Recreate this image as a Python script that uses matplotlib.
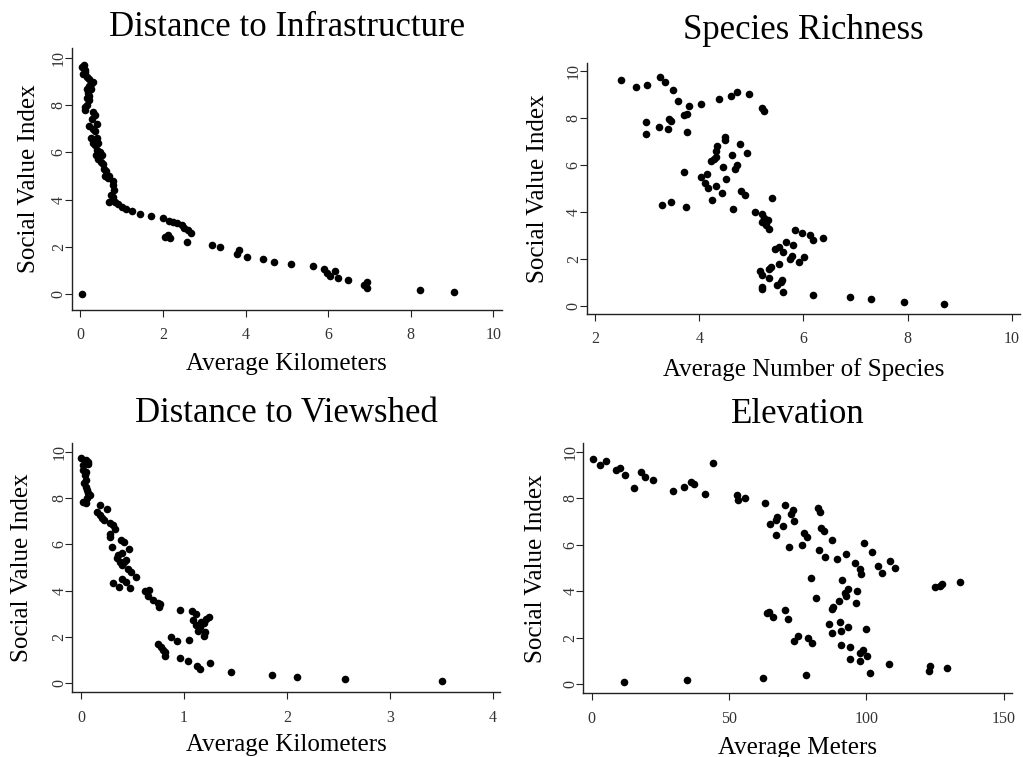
import matplotlib
matplotlib.use("Agg")
import matplotlib.pyplot as plt

plt.rcParams['font.family'] = ['Liberation Serif', 'DejaVu Serif']

# Distance to Infrastructure (km vs social value index)
infra_km = [0.08, 0.05, 0.10, 0.07, 0.12, 0.15, 0.20, 0.30, 0.25, 0.20, 0.15, 0.25,
            0.18, 0.22, 0.15, 0.20, 0.17, 0.12, 0.10,
            0.30, 0.35, 0.28, 0.40, 0.20, 0.30, 0.35, 0.25, 0.40, 0.30, 0.42, 0.35,
            0.40, 0.48, 0.38, 0.52, 0.42, 0.50, 0.55, 0.58, 0.62, 0.60, 0.70, 0.68,
            0.80, 0.78, 0.82, 0.75, 0.80, 0.70, 0.85, 0.90, 1.00, 1.10, 1.25, 1.45,
            1.72, 2.00, 2.15, 2.25, 2.35, 2.45, 2.50, 2.60, 2.68, 2.05, 2.12, 2.18,
            2.58, 3.18, 3.37, 3.83, 3.79, 4.04, 4.43, 4.70, 5.09, 5.63, 5.90, 5.97,
            6.05, 6.17, 6.25, 6.49, 6.87, 6.93, 6.95, 8.23, 9.06, 0.05]
infra_svi = [9.7, 9.6, 9.5, 9.3, 9.4, 9.2, 9.1, 9.0, 8.9, 8.8, 8.7, 8.7,
             8.5, 8.4, 8.3, 8.2, 8.0, 7.9, 7.8,
             7.7, 7.6, 7.4, 7.2, 7.1, 7.0, 6.9, 6.6, 6.6, 6.4, 6.4, 6.3,
             6.1, 6.0, 5.9, 5.9, 5.7, 5.6, 5.5, 5.3, 5.2, 5.0, 5.0, 4.9,
             4.8, 4.6, 4.4, 4.2, 4.1, 3.9, 3.9, 3.8, 3.7, 3.6, 3.5, 3.4,
             3.3, 3.2, 3.1, 3.05, 3.0, 2.9, 2.8, 2.7, 2.6, 2.4, 2.5, 2.35,
             2.2, 2.08, 1.98, 1.86, 1.69, 1.58, 1.47, 1.37, 1.27, 1.17, 1.06, 0.90,
             0.76, 0.99, 0.68, 0.58, 0.37, 0.51, 0.25, 0.18, 0.08, 0.0]

# Species Richness (average number of species)
species_n = [2.50, 2.79, 2.99, 3.25, 3.33, 3.49, 3.58, 3.81, 4.03, 4.37, 4.60, 4.73,
             4.95, 5.20, 5.25, 2.97, 2.97, 3.22, 3.41, 3.45, 3.40, 3.70, 3.76, 3.76,
             3.71, 3.29, 3.46, 3.74, 4.03, 4.14, 4.10, 4.16, 4.25, 4.31, 4.44, 4.51,
             4.45, 4.23, 4.28, 4.31, 4.32, 4.33, 4.50, 4.50, 4.63, 4.78, 4.73, 4.68,
             4.92, 4.79, 4.87, 4.65, 5.39, 5.06, 5.20, 5.25, 5.31, 5.21, 5.28, 5.33,
             5.84, 5.98, 6.12, 6.18, 6.38, 5.66, 5.80, 5.52, 5.45, 5.60, 5.77, 5.74,
             6.01, 5.92, 5.52, 5.38, 5.34, 5.16, 5.20, 5.33, 5.57, 5.59, 5.49, 5.20,
             5.20, 5.60, 6.19, 6.89, 7.29, 7.94, 8.69]
species_svi = [9.60, 9.30, 9.40, 9.72, 9.52, 9.19, 8.71, 8.50, 8.60, 8.79, 8.91, 9.11,
               8.99, 8.40, 8.30, 7.80, 7.30, 7.60, 7.96, 7.87, 7.53, 8.11, 8.17, 7.40,
               5.70, 4.28, 4.40, 4.20, 5.49, 5.60, 5.22, 5.02, 4.50, 5.11, 4.79, 5.39,
               5.89, 6.16, 6.23, 6.34, 6.60, 6.81, 7.04, 7.19, 6.40, 6.89, 6.00, 5.80,
               6.48, 4.89, 4.71, 4.10, 4.58, 4.00, 3.91, 3.72, 3.66, 3.57, 3.43, 3.28,
               3.21, 3.11, 3.01, 2.79, 2.87, 2.70, 2.58, 2.48, 2.40, 2.27, 2.13, 2.01,
               2.09, 1.87, 1.79, 1.65, 1.57, 1.49, 1.30, 1.19, 1.02, 1.09, 0.87, 0.81,
               0.70, 0.57, 0.47, 0.37, 0.28, 0.16, 0.07]

# Distance to Viewshed (km)
view_km = [0.00, 0.05, 0.065, 0.017, 0.07, 0.02, 0.05, 0.036, 0.05, 0.03, 0.05, 0.06,
           0.07, 0.09, 0.06, 0.05, 0.02,
           0.18, 0.16, 0.18, 0.25, 0.20, 0.22, 0.28, 0.31, 0.33, 0.28, 0.28, 0.30,
           0.385, 0.42, 0.47, 0.36, 0.35, 0.38, 0.40, 0.42, 0.40, 0.44, 0.46, 0.49,
           0.53, 0.31, 0.37, 0.40, 0.44, 0.48, 0.62, 0.66, 0.65, 0.70, 0.75, 0.76,
           0.77, 0.96, 1.08, 1.12, 1.09, 1.12, 1.16, 1.14, 1.20, 1.19, 1.19, 1.21,
           1.24, 1.17, 0.87, 0.93, 1.05, 0.75, 0.78, 0.80, 0.82, 0.82, 0.96, 1.04,
           1.13, 1.16, 1.25, 1.46, 1.86, 2.10, 2.56, 3.51]
view_svi = [9.74, 9.64, 9.54, 9.42, 9.45, 9.21, 9.14, 9.00, 8.78, 8.63, 8.49, 8.35,
            8.20, 8.13, 7.99, 7.80, 7.84,
            7.71, 7.41, 7.27, 7.54, 7.12, 7.05, 6.91, 6.83, 6.65, 6.43, 6.33, 5.90,
            6.19, 6.08, 5.80, 5.54, 5.40, 5.25, 5.11, 5.25, 5.61, 5.32, 4.92, 4.82,
            4.60, 4.32, 4.17, 4.49, 4.39, 4.10, 3.97, 4.03, 3.78, 3.60, 3.45, 3.31,
            3.42, 3.16, 3.10, 3.00, 2.72, 2.50, 2.43, 2.27, 2.20, 2.06, 2.58, 2.78,
            2.88, 2.63, 1.99, 1.82, 1.88, 1.68, 1.58, 1.44, 1.33, 1.19, 1.09, 0.98,
            0.76, 0.60, 0.86, 0.47, 0.36, 0.29, 0.17, 0.09]

# Elevation (average meters)
elev_m = [0.6, 3.0, 5.2, 8.8, 10.3, 12.1, 15.5, 17.8, 19.5, 22.2, 29.7, 33.8,
          36.0, 37.3, 41.3, 44.1, 53.0, 53.2, 56.0, 63.2, 70.4, 73.2, 72.7, 73.7,
          67.6, 67.3, 64.8, 69.8, 67.3, 71.9, 82.4, 83.3, 83.6, 84.5, 77.5, 78.4,
          76.7, 87.6, 82.7, 84.8, 89.2, 92.7, 99.2, 102.2, 95.8, 97.6, 98.2, 104.2,
          105.6, 108.5, 110.4, 80.0, 91.0, 81.8, 93.2, 92.1, 92.7, 96.7, 96.4, 90.1,
          87.9, 87.4, 63.9, 64.6, 66.1, 70.3, 71.6, 86.4, 90.5, 87.6, 90.9, 93.2,
          99.9, 75.3, 73.7, 78.9, 80.1, 90.9, 94.2, 98.9, 97.8, 100.1, 94.2, 97.6,
          101.3, 108.4, 123.3, 123.0, 129.5, 125.2, 126.7, 127.6, 134.2, 77.9, 11.8,
          34.7, 62.3]
elev_svi = [9.70, 9.41, 9.60, 9.21, 9.31, 9.00, 8.42, 9.11, 8.93, 8.78, 8.31, 8.50,
            8.71, 8.60, 8.20, 9.50, 8.12, 7.92, 8.00, 7.79, 7.69, 7.49, 7.31, 7.01,
            7.19, 7.06, 6.89, 6.81, 6.40, 5.89, 7.59, 7.39, 6.70, 6.60, 6.49, 6.32,
            6.00, 6.20, 5.77, 5.49, 5.39, 5.60, 6.09, 5.69, 5.20, 4.94, 4.74, 5.10,
            4.80, 5.30, 5.01, 4.58, 4.48, 3.70, 4.08, 3.91, 3.80, 4.00, 3.48, 3.58,
            3.34, 3.25, 3.05, 3.12, 2.88, 3.18, 2.79, 2.58, 2.69, 2.19, 2.29, 2.48,
            2.39, 2.08, 1.88, 1.99, 1.79, 1.69, 1.59, 1.49, 1.33, 1.20, 1.09, 0.99,
            0.47, 0.89, 0.79, 0.57, 0.69, 4.20, 4.24, 4.31, 4.40, 0.39, 0.09,
            0.17, 0.29]

panels = [
    # rect, x, y, title, xlabel, xlim, ylim, xticks, (title y, xlabel y, ylabel x)
    ([0.0701, 0.5905, 0.4206, 0.3461], infra_km, infra_svi, "Distance to Infrastructure",
     "Average Kilometers", (-0.21, 10.21), (-0.68, 10.42), [0, 2, 4, 6, 8, 10],
     (1.046, -0.165, -0.073)),
    ([0.5735, 0.5852, 0.4236, 0.3320], species_n, species_svi, "Species Richness",
     "Average Number of Species", (1.835, 10.16), (-0.35, 10.34), [2, 4, 6, 8, 10],
     (1.094, -0.176, -0.088)),
    ([0.0707, 0.0855, 0.4181, 0.3289], view_km, view_svi, "Distance to Viewshed",
     "Average Kilometers", (-0.084, 4.07), (-0.39, 10.36), [0, 1, 2, 3, 4],
     (1.087, -0.168, -0.091)),
    ([0.5702, 0.0841, 0.4188, 0.3303], elev_m, elev_svi, "Elevation",
     "Average Meters", (-3.05, 153), (-0.39, 10.36), [0, 50, 100, 150],
     (1.082, -0.173, -0.084)),
]

fig = plt.figure(figsize=(10.23, 7.57), dpi=100)

for rect, xs, ys, title, xlabel, xlim, ylim, xticks, (ty, xly, ylx) in panels:
    ax = fig.add_axes(rect)
    ax.scatter(xs, ys, s=30, color='black', linewidths=0, zorder=3)
    ax.set_xlim(xlim)
    ax.set_ylim(ylim)
    ax.set_xticks(xticks)
    ax.set_yticks([0, 2, 4, 6, 8, 10])
    for side in ('top', 'right'):
        ax.spines[side].set_visible(False)
    for side in ('left', 'bottom'):
        ax.spines[side].set_linewidth(1.0)
        ax.spines[side].set_color('#222222')
    ax.tick_params(direction='out', length=5, width=0.8, color='#222222',
                   labelsize=11.5, labelcolor='#333333')
    ax.tick_params(axis='x', pad=7.5)
    ax.tick_params(axis='y', pad=-1.5)
    for lbl in ax.get_yticklabels():
        lbl.set_rotation(90)
        lbl.set_va('center')
    ax.text(0.5, ty, title, transform=ax.transAxes, ha='center', va='baseline',
            fontsize=25)
    ax.set_xlabel(xlabel, fontsize=18, va='top')
    ax.xaxis.set_label_coords(0.5, xly)
    ax.set_ylabel("Social Value Index", fontsize=18)
    ax.yaxis.set_label_coords(ylx, 0.5)

fig.savefig("out.png", dpi=100)
